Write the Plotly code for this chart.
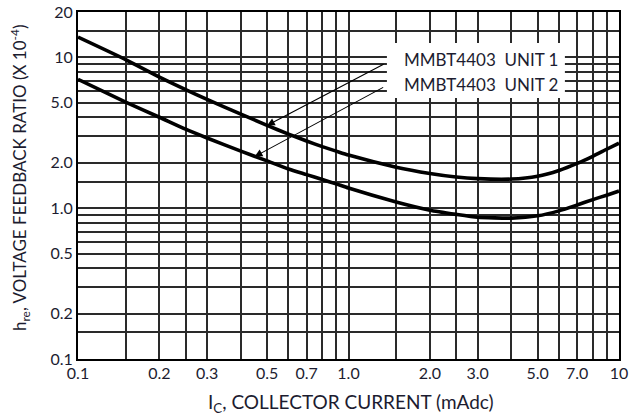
import math
import plotly.graph_objects as go

# Collector current (mAdc)
ic_ma = [0.1, 0.15, 0.2, 0.25, 0.3, 0.4, 0.5, 0.6, 0.7, 0.8, 0.9, 1.0,
         1.5, 2.0, 2.5, 3.0, 4.0, 5.0, 6.0, 7.0, 8.0, 9.0, 10.0]
# h_re (x 10^-4)
unit1 = [13.65, 9.68, 7.41, 6.12, 5.26, 4.21, 3.54, 3.10, 2.79, 2.56, 2.39, 2.25,
         1.87, 1.70, 1.61, 1.57, 1.56, 1.63, 1.78, 1.98, 2.21, 2.46, 2.70]
unit2 = [7.15, 5.05, 4.01, 3.34, 2.92, 2.39, 2.06, 1.82, 1.67, 1.55, 1.45, 1.36,
         1.10, 0.97, 0.91, 0.87, 0.86, 0.89, 0.96, 1.05, 1.14, 1.22, 1.30]

series_names = ["MMBT4403  UNIT 1", "MMBT4403  UNIT 2"]

x_tickvals = [0.1, 0.2, 0.3, 0.5, 0.7, 1, 2, 3, 5, 7, 10]
x_ticktext = ["0.1", "0.2", "0.3", "0.5", "0.7", "1.0", "2.0", "3.0", "5.0", "7.0", "10"]
x_minor = [0.15, 0.25, 0.4, 0.6, 0.8, 0.9, 1.5, 2.5, 4, 6, 8, 9]
y_tickvals = [0.1, 0.2, 0.5, 1, 2, 5, 10, 20]
y_ticktext = ["0.1", "0.2", "0.5", "1.0", "2.0", "5.0", "10", "20"]
y_minor = [0.15, 0.3, 0.4, 0.6, 0.7, 0.8, 0.9, 1.5, 3, 4, 6, 7, 8, 9, 15]

# arrow tips on the curves (x, y)
arrow_tips = [(0.5, 3.54), (0.45, 2.2)]

FONT = "Lato"
TXT = "#1c1c30"
GRID = "#2a2a2a"

fig = go.Figure()
for ys in (unit1, unit2):
    fig.add_trace(go.Scatter(x=ic_ma, y=ys, mode="lines",
                             line=dict(color="black", width=3.6, shape="spline", smoothing=0.5),
                             showlegend=False, hoverinfo="skip"))

axis_common = dict(type="log", showgrid=True, gridcolor=GRID, gridwidth=1.8,
                   showline=True, linecolor="black", linewidth=2, mirror=True,
                   ticks="", zeroline=False, automargin=False,
                   tickfont=dict(family=FONT, size=16, color=TXT))

fig.update_xaxes(range=[-1, 1], tickmode="array", tickvals=x_tickvals, ticktext=x_ticktext,
                 minor=dict(tickmode="array", tickvals=x_minor, showgrid=True,
                            gridcolor=GRID, gridwidth=1.8, ticks=""),
                 ticklabelstandoff=-1, **axis_common)
fig.update_yaxes(range=[-1, math.log10(20)], tickmode="array", tickvals=y_tickvals, ticktext=y_ticktext,
                 minor=dict(tickmode="array", tickvals=y_minor, showgrid=True,
                            gridcolor=GRID, gridwidth=1.8, ticks=""),
                 **axis_common)

annotations = [
    dict(text="I<sub>C</sub>, COLLECTOR CURRENT (mAdc)", xref="paper", yref="paper",
         x=0.505, y=-0.128, showarrow=False, xanchor="center", yanchor="middle",
         font=dict(family=FONT, size=19, color=TXT)),
    dict(text="h<sub>re</sub>, VOLTAGE FEEDBACK RATIO (X 10<sup>-4</sup>)", xref="paper", yref="paper",
         x=-0.107, y=0.522, showarrow=False, textangle=-90, xanchor="center", yanchor="middle",
         font=dict(family=FONT, size=17, color=TXT)),
]
legend_y = [0.862, 0.79]
for name, ly in zip(series_names, legend_y):
    annotations.append(dict(text=name, xref="paper", yref="paper", x=0.598, y=ly,
                            showarrow=False, xanchor="left", yanchor="middle",
                            font=dict(family=FONT, size=17, color=TXT)))

tails = [(118, -62), (130, -70)]
for (tx, ty), (ax, ay) in zip(arrow_tips, tails):
    annotations.append(dict(x=math.log10(tx), y=math.log10(ty), xref="x", yref="y",
                            ax=ax, ay=ay, text="", showarrow=True,
                            arrowhead=2, arrowsize=1.4, arrowwidth=1.1, arrowcolor="black"))

fig.update_layout(
    width=630, height=418,
    margin=dict(l=78, r=11, t=12, b=59, autoexpand=False),
    paper_bgcolor="white", plot_bgcolor="white",
    annotations=annotations,
    shapes=[dict(type="rect", xref="paper", yref="paper", x0=0.571, x1=0.90,
                 y0=0.752, y1=0.911, fillcolor="white", line=dict(width=0), layer="above")],
)
fig.write_html("out.html")
